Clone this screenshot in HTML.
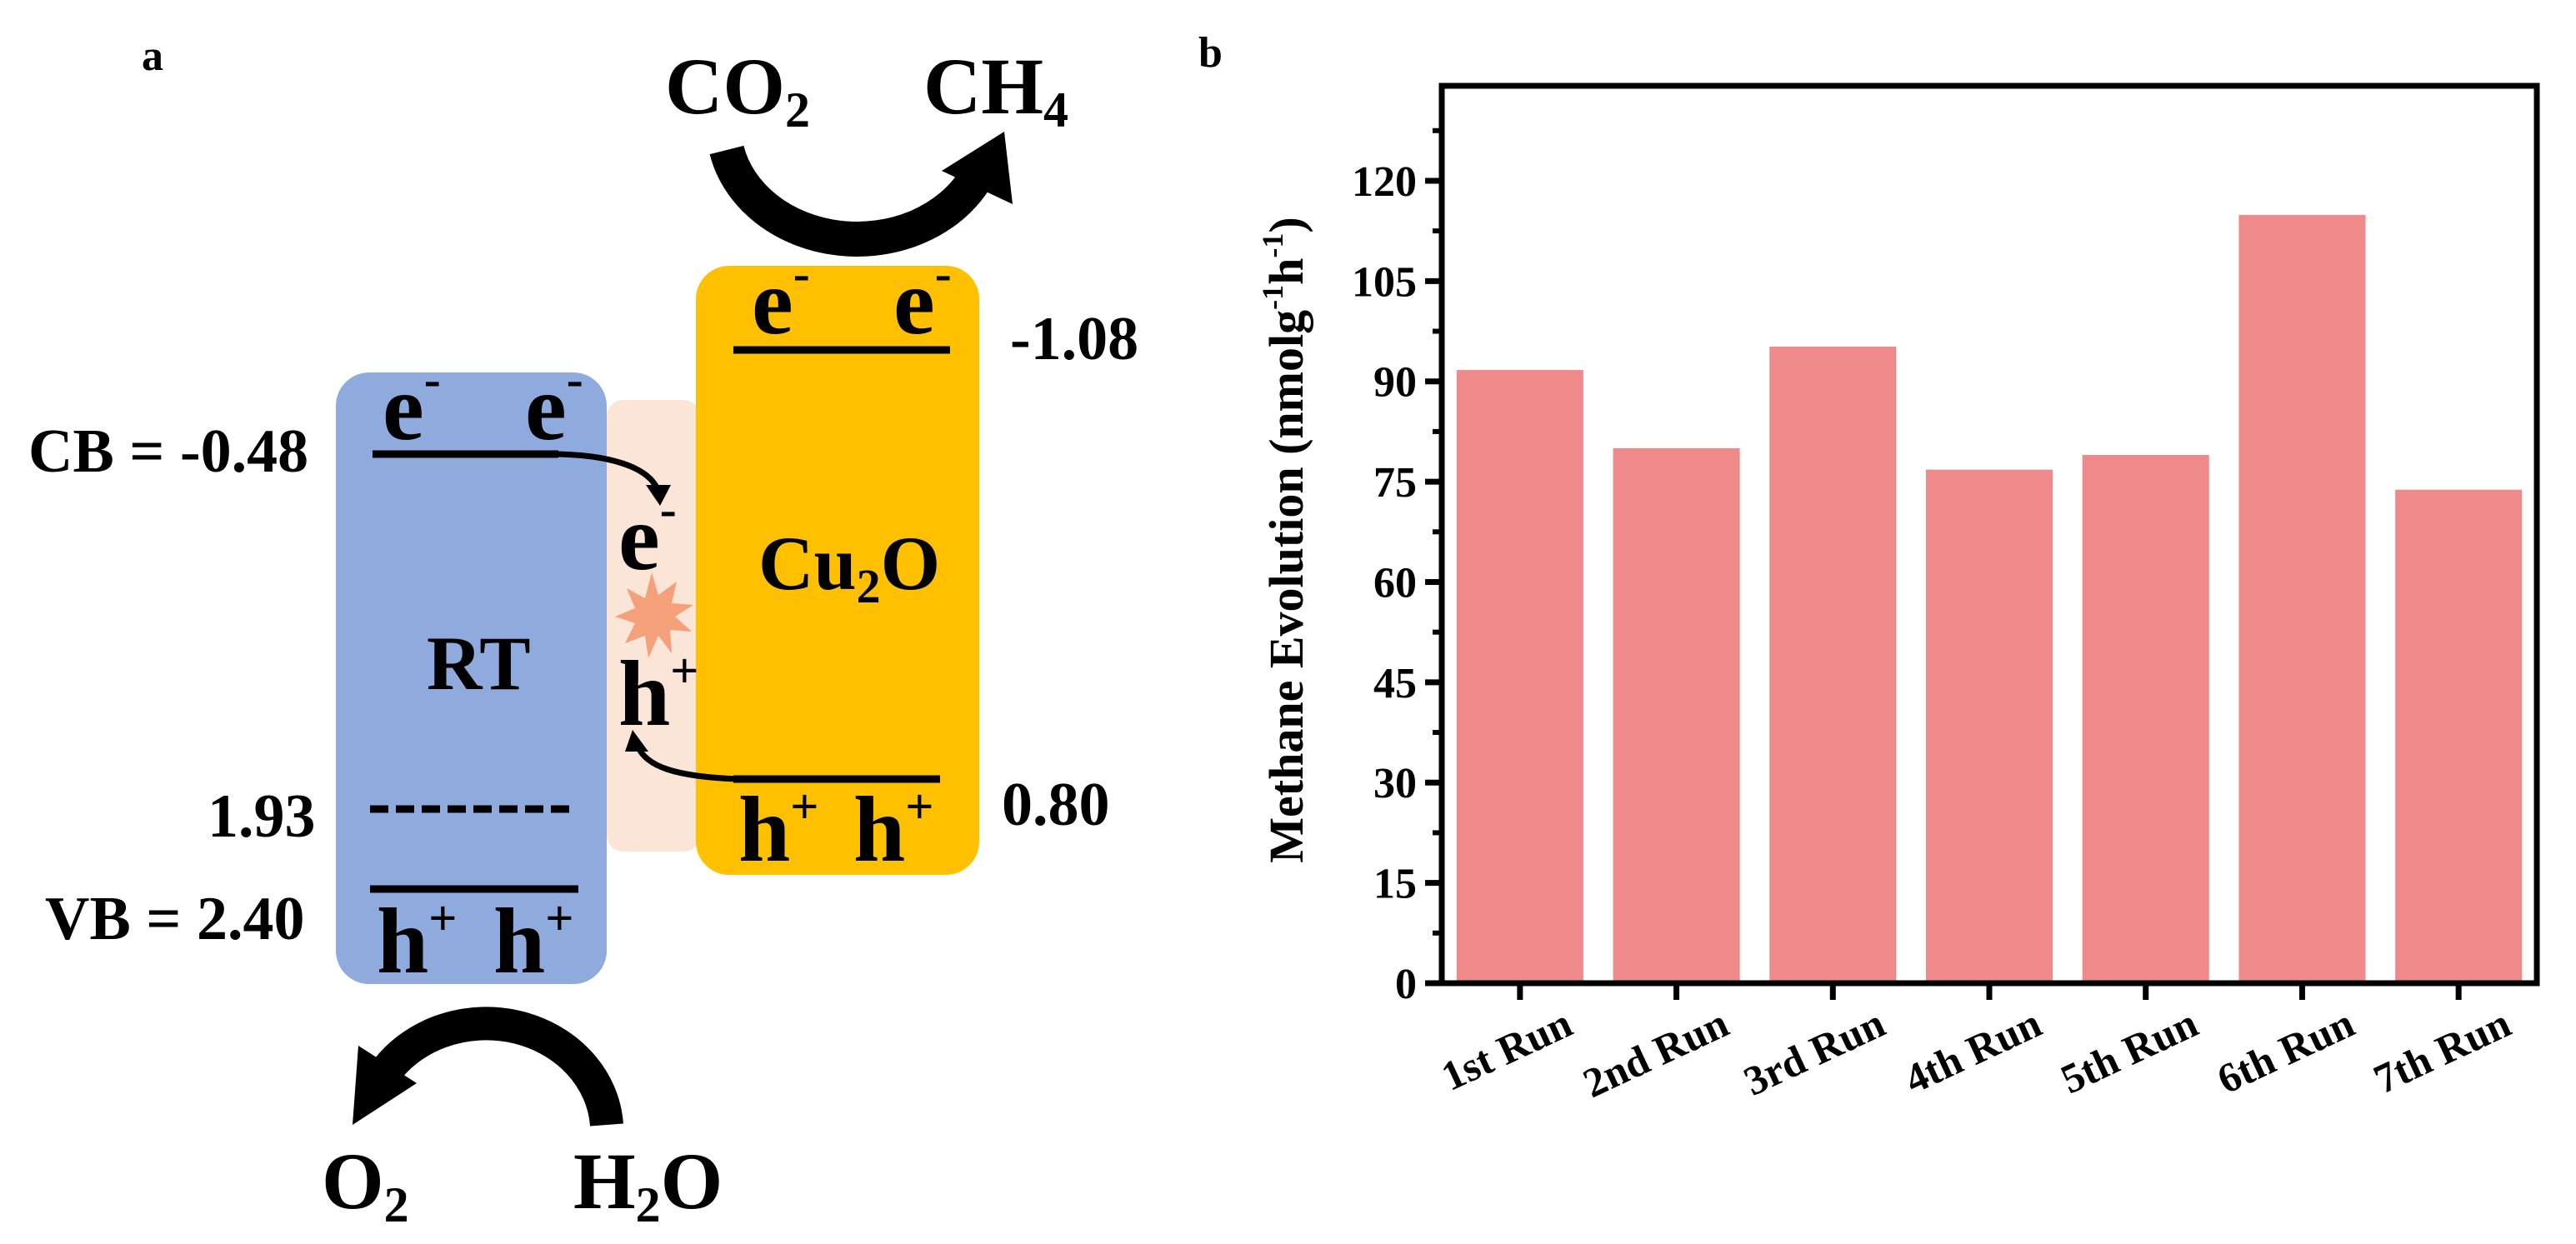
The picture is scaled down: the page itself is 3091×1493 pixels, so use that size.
<!DOCTYPE html>
<html><head><meta charset="utf-8"><style>
html,body{margin:0;padding:0;background:#fff;}
svg{display:block;font-family:"Liberation Serif",serif;font-weight:bold;}
</style></head><body>
<svg id="fig" width="3091" height="1493" viewBox="0 0 3091 1493" xmlns="http://www.w3.org/2000/svg">
<g id="panelA">
  <text x="170" y="84" font-size="52">a</text>
  <text x="1438" y="80" font-size="52">b</text>
  <rect x="728" y="480" width="112" height="542" rx="20" fill="#fbe5d6"/>
  <rect x="403" y="447" width="325" height="734" rx="40" fill="#8faadc"/>
  <rect x="835" y="319" width="340" height="731" rx="40" fill="#ffc000"/>
  <line x1="447" y1="545" x2="670" y2="545" stroke="#000" stroke-width="9"/>
  <path d="M660 545 C 730 545, 780 560, 790 590" fill="none" stroke="#000" stroke-width="7"/>
  <polygon points="775,582 805,582 792,607" fill="#000"/>
  <line x1="444" y1="971" x2="690" y2="971" stroke="#000" stroke-width="9" stroke-dasharray="22,9"/>
  <line x1="444" y1="1067" x2="694" y2="1067" stroke="#000" stroke-width="9"/>
  <line x1="880" y1="420" x2="1140" y2="420" stroke="#000" stroke-width="9"/>
  <line x1="880" y1="935" x2="1128" y2="935" stroke="#000" stroke-width="9"/>
  <path d="M885 935 C 810 932, 775 920, 765 895" fill="none" stroke="#000" stroke-width="7"/>
  <polygon points="750,902 778,902 759,876" fill="#000"/>
  <polygon points="782,687 790,714 812,698 806,724 832,726 810,740 830,758 804,756 806,784 790,763 778,790 774,763 750,772 762,748 738,740 762,730 752,706 774,718" fill="#f4a07a"/>
  <g font-size="112">
    <text x="459" y="527">e<tspan font-size="60" dy="-52">-</tspan></text>
    <text x="630" y="527">e<tspan font-size="60" dy="-52">-</tspan></text>
    <text x="902" y="400">e<tspan font-size="60" dy="-52">-</tspan></text>
    <text x="1072" y="400">e<tspan font-size="60" dy="-52">-</tspan></text>
    <text x="742" y="683">e<tspan font-size="60" dy="-52">-</tspan></text>
    <text x="742" y="870">h<tspan font-size="60" dy="-45">+</tspan></text>
    <text x="452" y="1167">h<tspan font-size="60" dy="-45">+</tspan></text>
    <text x="592" y="1167">h<tspan font-size="60" dy="-45">+</tspan></text>
    <text x="886" y="1033">h<tspan font-size="60" dy="-45">+</tspan></text>
    <text x="1024" y="1033">h<tspan font-size="60" dy="-45">+</tspan></text>
  </g>
  <text x="512" y="827" font-size="92">RT</text>
  <text x="910" y="707" font-size="92">Cu<tspan font-size="58" dy="16">2</tspan><tspan dy="-16">O</tspan></text>
  <g font-size="74">
    <text x="34" y="566">CB = -0.48</text>
    <text x="1212" y="431">-1.08</text>
    <text x="249" y="1004">1.93</text>
    <text x="1202" y="990">0.80</text>
    <text x="54" y="1127">VB = 2.40</text>
  </g>
  <path d="M872 180 A 160 135 0 0 0 1170 215" fill="none" stroke="#000" stroke-width="42"/>
  <polygon points="1130,205 1205,158 1215,245" fill="#000"/>
  <path d="M728 1350 A 145 130 0 0 0 460 1290" fill="none" stroke="#000" stroke-width="40"/>
  <polygon points="430,1255 500,1300 423,1350" fill="#000"/>
  <g font-size="96">
    <text x="798" y="136">CO<tspan font-size="60" dy="16">2</tspan></text>
    <text x="1108" y="136">CH<tspan font-size="60" dy="16">4</tspan></text>
    <text x="386" y="1450">O<tspan font-size="60" dy="16">2</tspan></text>
    <text x="688" y="1450">H<tspan font-size="60" dy="16">2</tspan><tspan dy="-16">O</tspan></text>
  </g>
</g>
<g id="chart"></g>
</svg>
<script>
const categories = ["1st Run","2nd Run","3rd Run","4th Run","5th Run","6th Run","7th Run"];
const methaneValues = [91.7, 80.0, 95.2, 76.8, 79.0, 114.9, 73.8];
const yTickValues = [0, 15, 30, 45, 60, 75, 90, 105, 120];
const yTickLabels = ["0","15","30","45","60","75","90","105","120"];
const yMax = 134.2;

const NS = "http://www.w3.org/2000/svg";
const g = document.getElementById("chart");
const L = 1730, R = 3044, T = 103, B = 1180;
function yScale(v){ return B - v / yMax * (B - T); }
const band = (R - L) / categories.length;
function xCenter(i){ return L + band * (i + 0.5); }
function mk(tag, attrs){ const e = document.createElementNS(NS, tag); for (const k in attrs) e.setAttribute(k, attrs[k]); g.appendChild(e); return e; }

categories.forEach((c, i) => {
  const bw = band * 0.81;
  const r = mk("rect", {x: xCenter(i) - bw/2, y: yScale(methaneValues[i]), width: bw, height: B - yScale(methaneValues[i]), fill: "#ee8a8a"});
  
  
  const t = mk("line", {x1: xCenter(i), x2: xCenter(i), y1: B, y2: B + 20, stroke: "#000", "stroke-width": 7});
  
  
  const lx = xCenter(i) + 66, ly = B + 60;
  const lb = mk("text", {x: lx, y: ly, "font-size": 50, "text-anchor": "end", transform: "rotate(-25 " + lx + " " + ly + ")"});
  lb.textContent = c;
  
  
});
for (let k = 0; k < yTickValues.length; k++) {
  const v = yTickValues[k];
  const tk = mk("line", {x1: L - 20, x2: L, y1: yScale(v), y2: yScale(v), stroke: "#000", "stroke-width": 7});
  
  
  const lb = mk("text", {x: L - 30, y: yScale(v) + 18, "font-size": 52, "text-anchor": "end"});
  lb.textContent = yTickLabels[k];
  
  
  const mv = v + 7.5;
  if (mv < yMax) {
    const mt = mk("line", {x1: L - 11, x2: L, y1: yScale(mv), y2: yScale(mv), stroke: "#000", "stroke-width": 6});
    
    
  }
}
const frame = mk("rect", {x: L, y: T, width: R - L, height: B - T, fill: "none", stroke: "#000", "stroke-width": 7});


const yt = mk("text", {x: 1543, y: 628, "font-size": 58, "text-anchor": "middle", transform: "rotate(-90 1563 628)"});
yt.innerHTML = 'Methane Evolution (nmolg<tspan font-size="36" dy="-24">-1</tspan><tspan dy="24">h</tspan><tspan font-size="36" dy="-24">-1</tspan><tspan dy="24">)</tspan>';


</script>
</body></html>
